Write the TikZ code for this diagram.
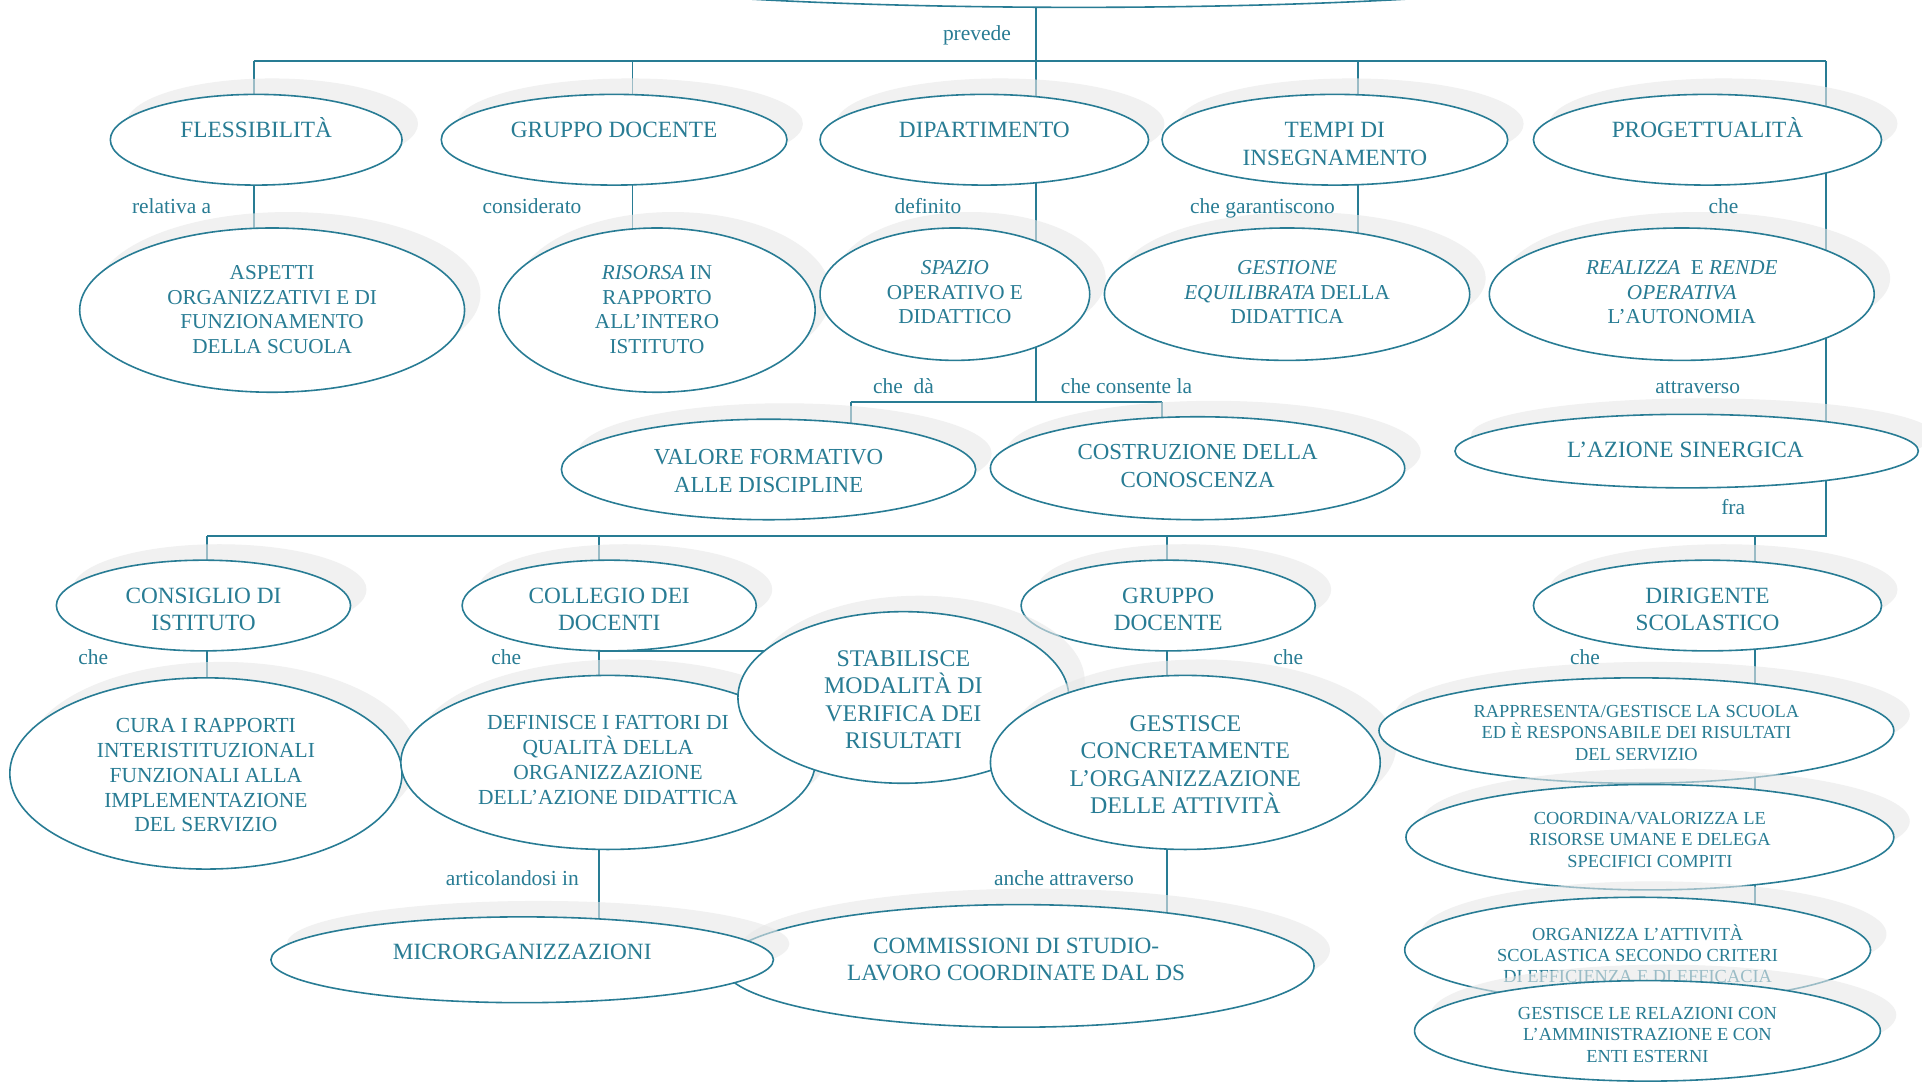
\documentclass[tikz,border=0pt]{standalone}
\usepackage{fontspec}
\setmainfont{Liberation Serif}
\usetikzlibrary{shapes.geometric}
\definecolor{teal1}{RGB}{40,124,148}
\tikzset{
  bubst/.style={ellipse, draw=teal1, line width=1.3pt, fill=white, inner sep=0pt, outer sep=0pt},
  shadowfill/.style={fill=black!9, fill opacity=0.6},
  txt/.style={text=teal1, align=center, inner sep=0pt},
  lbl/.style={text=teal1, font=\fontsize{17.5}{20}\selectfont, inner sep=0pt, anchor=base},
  conn/.style={draw=teal1, line width=1.6pt},
  fA/.style={font=\fontsize{19}{23}\selectfont},
  fB/.style={font=\fontsize{17.3}{20}\selectfont},
  fC/.style={font=\fontsize{18.7}{23}\selectfont},
  fD/.style={font=\fontsize{19}{22}\selectfont},
  fE/.style={font=\fontsize{17.5}{20.2}\selectfont},
  fF/.style={font=\fontsize{19.5}{22.4}\selectfont},
  fG/.style={font=\fontsize{15}{17.5}\selectfont},
}
\newcommand\mybubble[6]{%
  \fill[shadowfill] #2 ++(13,-13) ellipse [x radius=#3pt, y radius=#4pt];
  \node[bubst, minimum width=2*#3pt, minimum height=2*#4pt] (#1) at #2 {};
  \node[txt, #5] (#1-t) {#6};
}
\begin{document}
\begin{tikzpicture}[x=1pt, y=-1pt]
\clip (0,0) rectangle (1568,882);
\fill[white] (0,0) rectangle (1568,882);
% junction coordinates
\coordinate (bL) at (207,50);
\coordinate (bR) at (1490,50);
\coordinate (b2) at (516,50);
\coordinate (b3) at (845,50);
\coordinate (b4) at (1108,50);
\coordinate (dL) at (694,328);
\coordinate (dM) at (845,328);
\coordinate (dR) at (948,328);
\coordinate (cL) at (169,437);
\coordinate (cR) at (1490,437);
\coordinate (c2) at (489,437);
\coordinate (c3) at (952,437);
\coordinate (c4) at (1432,437);
\coordinate (s1) at (489,531);
% node centres needed by the connectors
\path (880,-30) node[bubst, draw=none, fill=none, minimum width=920pt, minimum height=72pt] (topell) {};
\path (222,253) coordinate (asp0) (536,253) coordinate (ris0) (779,240) coordinate (spa0)
      (1050,240) coordinate (gest0) (627,383) coordinate (val0) (977,382) coordinate (cos0)
      (168,631) coordinate (cura0) (426,783) coordinate (micro0) (737,569) coordinate (stab0)
      (831,788) coordinate (comm0) (1344,841) coordinate (grel0);
% connectors
\draw[conn] (bL) -- (bR);
\draw[conn] (bL) -- (bL |- asp0);
\draw[conn] (b2) -- (b2 |- ris0);
\draw[conn] (dM |- topell.center) -- (dM);
\draw[conn] (b4) -- (b4 |- gest0);
\draw[conn] (dL) -- (dR);
\draw[conn] (dL) -- (dL |- val0);
\draw[conn] (dR) -- (dR |- cos0);
\draw[conn] (bR) -- (cR) -- (cL);
\draw[conn] (cL) -- (cL |- cura0);
\draw[conn] (c2) -- (c2 |- micro0);
\draw[conn] (s1) -- (s1 -| stab0);
\draw[conn] (c3) -- (c3 |- comm0);
\draw[conn] (c4) -- (c4 |- grel0);
% top ellipse
\node[bubst, minimum width=920pt, minimum height=72pt] (topE) at (880,-30) {};
% row 1
\mybubble{flex}{(209,114)}{119}{37}{fA, anchor=base, at={(209,112.5)}}{FLESSIBILITÀ}
\mybubble{grpa}{(501,114)}{141}{37}{fA, anchor=base, at={(501,112.5)}}{GRUPPO DOCENTE}
\mybubble{dip}{(803,114)}{134}{37}{fA, anchor=base, at={(803,112.5)}}{DIPARTIMENTO}
\mybubble{tempi}{(1089,114)}{141}{37}{fA, at={(1089,117.5)}}{TEMPI DI\\INSEGNAMENTO}
\mybubble{prog}{(1393,114)}{142}{37}{fA, anchor=base, at={(1393,112.5)}}{PROGETTUALITÀ}
% row 2
\mybubble{asp}{(222,253)}{157}{67}{fB, at={(222,252.5)}}{ASPETTI\\ORGANIZZATIVI E DI\\FUNZIONAMENTO\\DELLA SCUOLA}
\mybubble{ris}{(536,253)}{129}{67}{fB, at={(536,252.5)}}{\textit{RISORSA} IN\\RAPPORTO\\ALL’INTERO\\ISTITUTO}
\mybubble{spa}{(779,240)}{110}{54}{fB, at={(779,238.5)}}{\textit{SPAZIO}\\OPERATIVO E\\DIDATTICO}
\mybubble{gest}{(1050,240)}{149}{54}{fB, at={(1050,238.5)}}{\textit{GESTIONE}\\\textit{EQUILIBRATA} DELLA\\DIDATTICA}
\mybubble{real}{(1372,240)}{157}{54}{fB, at={(1372,238.5)}}{\textit{REALIZZA}\ \ E \textit{RENDE}\\\textit{OPERATIVA}\\L’AUTONOMIA}
% row 3
\mybubble{val}{(627,383)}{169}{41}{fC, at={(627,384)}}{VALORE FORMATIVO\\ALLE DISCIPLINE}
\mybubble{cos}{(977,382)}{169}{42}{fC, at={(977,380.5)}}{COSTRUZIONE DELLA\\CONOSCENZA}
\mybubble{sin}{(1376,368)}{189}{30}{fA, anchor=base, at={(1375,373)}}{L’AZIONE SINERGICA}
% row 4
\mybubble{cons}{(166,494)}{120}{37}{fD, at={(166,497.5)}}{CONSIGLIO DI\\ISTITUTO}
\mybubble{coll}{(497,494)}{120}{37}{fD, at={(497,497.5)}}{COLLEGIO DEI\\DOCENTI}
\mybubble{grpb}{(953,494)}{120}{37}{fD, at={(953,497.5)}}{GRUPPO\\DOCENTE}
\mybubble{dir}{(1393,494)}{142}{37}{fD, at={(1393,497.5)}}{DIRIGENTE\\SCOLASTICO}
% row 5
\mybubble{cura}{(168,631)}{160}{78}{fE, at={(168,632.5)}}{CURA I RAPPORTI\\INTERISTITUZIONALI\\FUNZIONALI ALLA\\IMPLEMENTAZIONE\\DEL SERVIZIO}
\mybubble{def}{(496,622)}{169}{71}{fE, at={(496,620)}}{DEFINISCE I FATTORI DI\\QUALITÀ DELLA\\ORGANIZZAZIONE\\DELL’AZIONE DIDATTICA}
\mybubble{stab}{(737,569)}{135}{70}{fF, at={(737,571)}}{STABILISCE\\MODALITÀ DI\\VERIFICA DEI\\RISULTATI}
\mybubble{gcon}{(967,622)}{159}{71}{fF, at={(967,624)}}{GESTISCE\\CONCRETAMENTE\\L’ORGANIZZAZIONE\\DELLE ATTIVITÀ}
% right column
\mybubble{rap}{(1335,596)}{210}{43}{fG, at={(1335,598)}}{RAPPRESENTA/GESTISCE LA SCUOLA\\ED È RESPONSABILE DEI RISULTATI\\DEL SERVIZIO}
\mybubble{coo}{(1346,683)}{199}{43}{fG, at={(1346,685)}}{COORDINA/VALORIZZA LE\\RISORSE UMANE E DELEGA\\SPECIFICI COMPITI}
\mybubble{org}{(1336,775)}{190}{43}{fG, at={(1336,778)}}{ORGANIZZA L’ATTIVITÀ\\SCOLASTICA SECONDO CRITERI\\DI EFFICIENZA E DI EFFICACIA}
\mybubble{grel}{(1344,841)}{190}{41}{fG, at={(1344,844)}}{GESTISCE LE RELAZIONI CON\\L’AMMINISTRAZIONE E CON\\ENTI ESTERNI}
% bottom
\mybubble{comm}{(831,788)}{241}{50}{fD, at={(829,782.5)}}{COMMISSIONI DI STUDIO-\\LAVORO COORDINATE DAL DS}
\mybubble{micro}{(426,783)}{205}{35}{fA, anchor=base, at={(426,783)}}{MICRORGANIZZAZIONI}
% labels
\node[lbl] (l1) at (797,33) {prevede};
\node[lbl] (l2) at (140,174) {relativa a};
\node[lbl] (l3) at (434,174) {considerato};
\node[lbl] (l4) at (757,174) {definito};
\node[lbl] (l5) at (1030,174) {che garantiscono};
\node[lbl] (l6) at (1406,174) {che};
\node[lbl] (l7) at (737,321) {che\ \ dà};
\node[lbl] (l8) at (919,321) {che consente la};
\node[lbl] (l9) at (1385,321) {attraverso};
\node[lbl] (l10) at (1414,420) {fra};
\node[lbl] (l11) at (76,542) {che};
\node[lbl] (l12) at (413,542) {che};
\node[lbl] (l13) at (1051,542) {che};
\node[lbl] (l14) at (1293,542) {che};
\node[lbl] (l15) at (418,722) {articolandosi in};
\node[lbl] (l16) at (868,722) {anche attraverso};
\end{tikzpicture}
\end{document}
